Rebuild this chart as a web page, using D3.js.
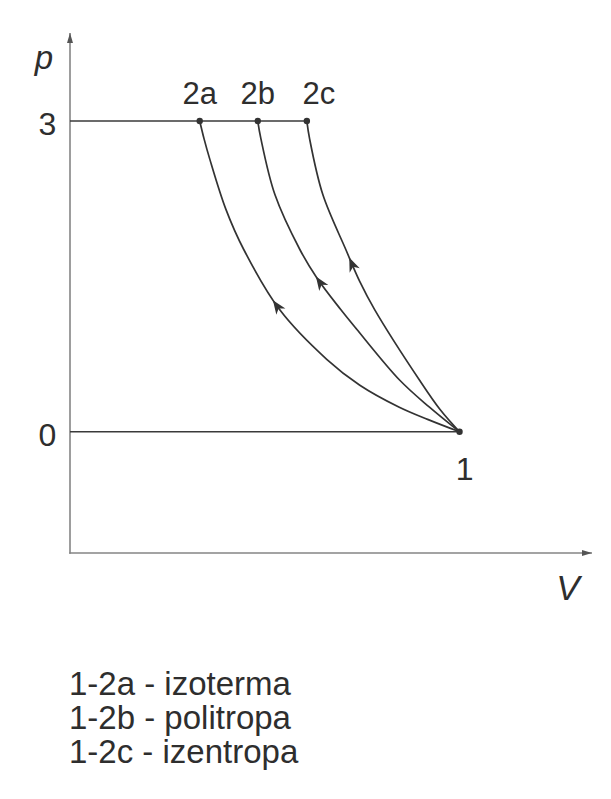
<!DOCTYPE html>
<html>
<head>
<meta charset="utf-8">
<script src="https://cdn.jsdelivr.net/npm/d3@7"></script>
<style>
  html, body { margin: 0; padding: 0; background: #ffffff; }
  svg { display: block; }
  text { font-family: "Liberation Sans", Arial, Helvetica, sans-serif; fill: #2e2e2e; }
</style>
</head>
<body>
<svg id="chart" width="611" height="799"></svg>
<script>
// p–V diagram: compression 1 → 2 along three paths
const pTicks = [0, 3];
const point1 = { V: 10, p: 0, label: "1" };

// Sampled curves (V, p) from state 1 up to the p = 3 line
const curve2a = [[10, 0], [9.18, 0.12], [8.44, 0.24], [7.44, 0.45], [6.59, 0.70], [5.38, 1.18], [4.46, 1.76], [4.00, 2.15], [3.59, 2.63], [3.44, 2.83], [3.33, 3.0]];
const curve2b = [[10, 0], [9.22, 0.24], [8.46, 0.50], [7.36, 0.99], [6.95, 1.18], [6.33, 1.49], [5.90, 1.76], [5.26, 2.29], [4.90, 2.83], [4.82, 3.0]];
const curve2c = [[10, 0], [9.51, 0.21], [8.97, 0.50], [7.82, 1.18], [7.44, 1.45], [7.08, 1.76], [6.49, 2.29], [6.15, 2.83], [6.08, 3.0]];

const curveNames = ["2a", "2b", "2c"];
const curveSeries = [curve2a, curve2b, curve2c];
const arrowP = [1.27, 1.50, 1.68];          // pressure at which each direction arrow sits
const legendLines = ["1-2a - izoterma", "1-2b - politropa", "1-2c - izentropa"];

const svg = d3.select("#chart");

const x = d3.scaleLinear().domain([0, 13.4]).range([70, 592]);
const y = d3.scaleLinear().domain([-1.17, 3.85]).range([553, 33]);

const axisColor = "#858585";
const ink = "#333333";

// Axes with arrowheads
const defs = svg.append("defs");
defs.append("marker")
  .attr("id", "axisArrow")
  .attr("viewBox", "0 0 10 8")
  .attr("refX", 10).attr("refY", 4)
  .attr("markerWidth", 10).attr("markerHeight", 8)
  .attr("markerUnits", "userSpaceOnUse")
  .attr("orient", "auto")
  .append("path").attr("d", "M0,1 L10,4 L0,7 Z").attr("fill", "#555");

const [x0, x1] = x.range();
const [y0, y1] = y.range();
svg.append("line")
  .attr("x1", x0).attr("y1", y0 + 0.8).attr("x2", x0).attr("y2", y1)
  .attr("stroke", axisColor).attr("stroke-width", 1.6)
  .attr("marker-end", "url(#axisArrow)");
svg.append("line")
  .attr("x1", x0 - 0.8).attr("y1", y0).attr("x2", x1).attr("y2", y0)
  .attr("stroke", axisColor).attr("stroke-width", 1.6)
  .attr("marker-end", "url(#axisArrow)");

// Axis titles
svg.append("text")
  .attr("x", 44).attr("y", 69)
  .attr("text-anchor", "middle")
  .attr("font-size", 33).attr("font-style", "italic")
  .text("p");
svg.append("text")
  .attr("x", 568).attr("y", 600)
  .attr("text-anchor", "middle")
  .attr("font-size", 35).attr("font-style", "italic")
  .text("V");

// Pressure levels
const endV = { 0: point1.V, 3: d3.max(curveSeries, s => s[s.length - 1][0]) };
pTicks.forEach(p => {
  svg.append("line")
    .attr("x1", x0).attr("x2", x(endV[p]))
    .attr("y1", y(p)).attr("y2", y(p))
    .attr("stroke", "#3a3a3a").attr("stroke-width", 1.6);
  svg.append("text")
    .attr("x", 47.5).attr("y", y(p) + 14)
    .attr("text-anchor", "middle")
    .attr("font-size", 32)
    .text(p);
});

// Process curves
const line = d3.line()
  .x(d => x(d[0]))
  .y(d => y(d[1]))
  .curve(d3.curveCatmullRom.alpha(0.5));

curveSeries.forEach((series, i) => {
  const path = svg.append("path")
    .datum(series)
    .attr("d", line)
    .attr("fill", "none")
    .attr("stroke", ink)
    .attr("stroke-width", 1.7);

  // direction arrow where the curve crosses the chosen pressure
  const node = path.node();
  const len = node.getTotalLength();
  const targetY = y(arrowP[i]);
  let best = 0, bestD = Infinity;
  for (let s = 0; s <= len; s += 0.5) {
    const pt = node.getPointAtLength(s);
    const d = Math.abs(pt.y - targetY);
    if (d < bestD) { bestD = d; best = s; }
  }
  const tip = node.getPointAtLength(best);
  const back = node.getPointAtLength(Math.max(0, best - 5));
  const ang = Math.atan2(tip.y - back.y, tip.x - back.x) * 180 / Math.PI;
  svg.append("path")
    .attr("d", "M0,0 L-14,-5.5 L-10,0 L-14,5.5 Z")
    .attr("fill", ink)
    .attr("transform", `translate(${tip.x},${tip.y}) rotate(${ang})`);

  // end state dot and label
  const end = series[series.length - 1];
  svg.append("circle")
    .attr("cx", x(end[0])).attr("cy", y(end[1])).attr("r", 3.2)
    .attr("fill", ink);
  svg.append("text")
    .attr("x", x(end[0]) + (i === 2 ? 12 : 0))
    .attr("y", y(end[1]) - 17)
    .attr("text-anchor", "middle")
    .attr("font-size", 31)
    .text(curveNames[i]);
});

// State 1
svg.append("circle")
  .attr("cx", x(point1.V)).attr("cy", y(point1.p)).attr("r", 3.2)
  .attr("fill", ink);
svg.append("text")
  .attr("x", x(point1.V) + 5).attr("y", y(point1.p) + 48)
  .attr("text-anchor", "middle")
  .attr("font-size", 32)
  .text(point1.label);

// Legend
svg.selectAll("text.legend")
  .data(legendLines)
  .enter().append("text")
  .attr("class", "legend")
  .attr("x", 69)
  .attr("y", (d, i) => 695 + i * 34)
  .attr("font-size", 33)
  .text(d => d);
</script>
</body>
</html>
